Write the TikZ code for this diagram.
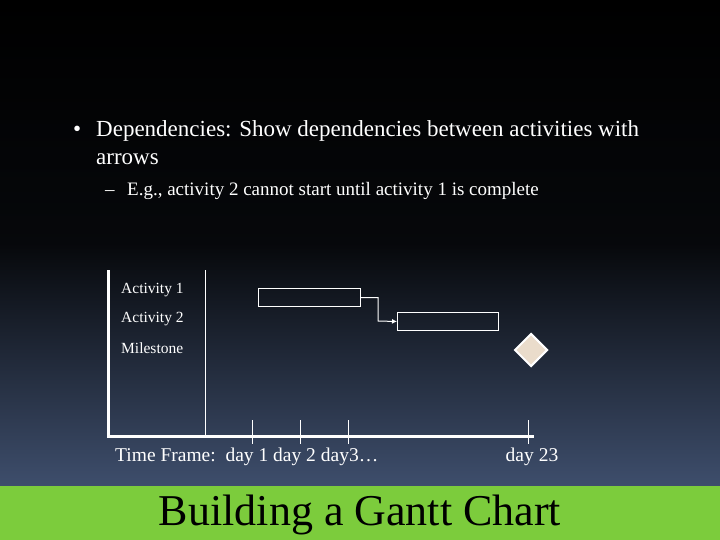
\documentclass[tikz,border=0pt]{standalone}
\usepackage{fontspec}
\setmainfont{Liberation Serif}
\usetikzlibrary{shapes.geometric,arrows.meta}
\definecolor{bandgreen}{RGB}{124,204,60}
\definecolor{lowblue}{RGB}{62,78,108}
\definecolor{milefill}{RGB}{234,220,203}

\begin{document}
\begin{tikzpicture}[x=1pt,y=-1pt,
    lbl/.style={text=white, font=\fontsize{15.5}{18}\selectfont, anchor=west, inner sep=0pt},
    tlbl/.style={text=white, font=\fontsize{19.5}{22}\selectfont, anchor=base, inner sep=0pt},
    bar/.style={draw=white, line width=1pt, rectangle, anchor=north west, inner sep=0pt},
    tick/.style={draw=white, line width=1pt}]
    % background
    \useasboundingbox (0,0) rectangle (720,540);
    \shade[top color=black, bottom color=lowblue, middle color=black!90!lowblue] (0,0) rectangle (720,486);
    \fill[bandgreen] (0,486) rectangle (720,540);
    \node[font=\fontsize{44}{48}\selectfont, text=black] (title) at (360,515) {Building a Gantt Chart};

    % bullet text
    \node[text=white, anchor=base west, inner sep=0pt, font=\fontsize{23}{26}\selectfont] (b1) at (73,137) {•};
    \node[text=white, anchor=base west, inner sep=0pt, font=\fontsize{23}{26}\selectfont] (t1) at (96,137) {Dependencies: Show dependencies between activities with};
    \node[text=white, anchor=base west, inner sep=0pt, font=\fontsize{23}{26}\selectfont] (t2) at (96,165) {arrows};
    \node[text=white, anchor=base west, inner sep=0pt, font=\fontsize{19}{22}\selectfont] (b2) at (105,196) {–};
    \node[text=white, anchor=base west, inner sep=0pt, font=\fontsize{19}{22}\selectfont] (t3) at (127,196) {E.g., activity 2 cannot start until activity 1 is complete};

    % axes
    \coordinate (ytop) at (108,270);
    \coordinate (corner) at (108,436);
    \coordinate (xend) at (534,436);
    \draw[white, line width=3pt] (ytop) -- (corner) -- (xend);
    \coordinate (sep-top) at (205,270);
    \coordinate (sep-bot) at (205,438);
    \draw[white, line width=1pt] (sep-top) -- (sep-bot);

    % ticks
    \foreach \x/\name in {252/one, 300/two, 348/three, 528/last}{
        \coordinate (tick-\name-a) at (\x,420);
        \coordinate (tick-\name-b) at (\x,444);
        \draw[tick] (tick-\name-a) -- (tick-\name-b);
    }

    % row labels
    \node[lbl] (act-1) at (121,290) {Activity 1};
    \node[lbl] (act-2) at (121,319) {Activity 2};
    \node[lbl] (mile) at (121,348) {Milestone};

    % time labels
    \node[tlbl, anchor=base west] (tf) at (115,461) {Time Frame:\ \ day 1 day 2 day3…};
    \node[tlbl] (d23) at (532,461) {day 23};

    % bars
    \node[bar, minimum width=102pt, minimum height=18pt] (bar-1) at (258,288) {};
    \node[bar, minimum width=101pt, minimum height=18pt] (bar-2) at (397,312) {};
    \draw[white, line width=1pt, -{Latex[length=5pt,width=5pt]}] (bar-1.east) -| (378,321) -- (bar-2.west);

    % milestone
    \node[diamond, draw=white, line width=2pt, fill=milefill, minimum width=33pt, minimum height=33pt, inner sep=0pt] (ms) at (531,350) {};
\end{tikzpicture}
\end{document}
